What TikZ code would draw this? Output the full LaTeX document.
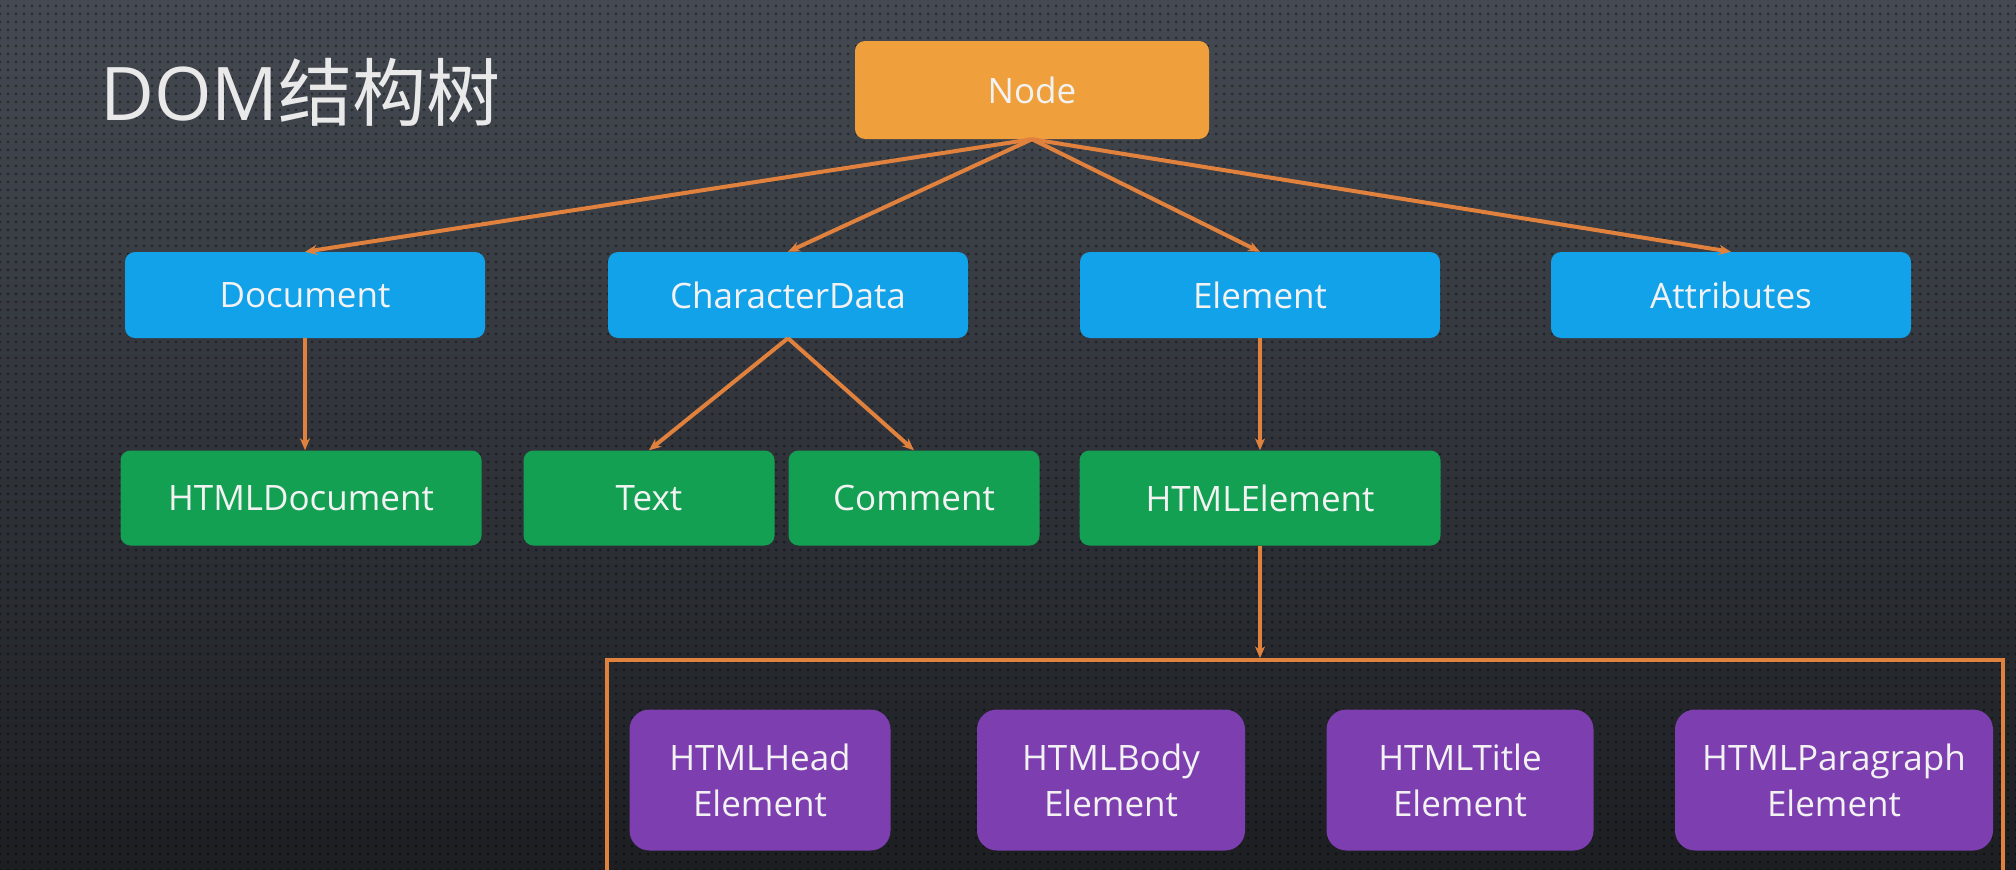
\documentclass[tikz,border=0pt]{standalone}
\usepackage{fontspec}
\setmainfont{Open Sans}
\newfontfamily\cjk{Noto Sans CJK SC}
\usetikzlibrary{arrows.meta,patterns.meta,calc}
\definecolor{bgtop}{HTML}{454A52}
\definecolor{bgbot}{HTML}{1C1E22}
\definecolor{cOrange}{HTML}{EFA03C}
\definecolor{cLine}{HTML}{E0813E}
\definecolor{cBlue}{HTML}{12A2EA}
\definecolor{cGreen}{HTML}{13A053}
\definecolor{cPurple}{HTML}{7D3EB0}
\definecolor{cText}{HTML}{F2F2F2}
\tikzset{
  box/.style={rounded corners=10pt, inner sep=0pt, text=cText, font=\fontsize{35}{46}\selectfont, align=center},
  rootbox/.style={box, fill=cOrange, minimum width=354pt, minimum height=98pt},
  bluebox/.style={box, fill=cBlue, minimum width=360pt, minimum height=86pt},
  greenbox/.style={box, fill=cGreen, minimum height=95pt},
  purplebox/.style={box, fill=cPurple, rounded corners=20pt, minimum height=141pt},
  link/.style={draw=cLine, line width=4pt, -{Stealth[length=12pt,width=10pt]}},
}
\begin{document}
\begin{tikzpicture}[x=1pt,y=-1pt]
\useasboundingbox (0,0) rectangle (2016,870);
\clip (0,0) rectangle (2016,870);
\shade[top color=bgtop, bottom color=bgbot] (0,0) rectangle (2016,870);
\fill[pattern={Dots[distance=8pt,radius=1.5pt]}, pattern color=black, opacity=0.4] (0,0) rectangle (2016,870);

\node[anchor=west, text=cText!92!gray, font=\fontsize{74}{80}\selectfont, inner sep=0pt] (title) at (100,92) {DOM{\cjk 结构树}};

\node[rootbox] (root) at (1032,90) {Node};

\node[bluebox] (doc) at (305,295) {Document};
\node[bluebox] (cdata) at (788,295) {CharacterData};
\node[bluebox] (elem) at (1260,295) {Element};
\node[bluebox] (attr) at (1731,295) {Attributes};

\node[greenbox, minimum width=361pt] (hdoc) at (301,498) {HTMLDocument};
\node[greenbox, minimum width=251pt] (text) at (649,498) {Text};
\node[greenbox, minimum width=251pt] (comment) at (914,498) {Comment};
\node[greenbox, minimum width=361pt] (helem) at (1260,498) {HTMLElement};

\node[draw=cLine, line width=3.5pt, minimum width=1396pt, minimum height=260pt, inner sep=0pt] (frame) at (1305,790) {};

\node[purplebox, minimum width=261pt] (head) at (760,780) {HTMLHead\\Element};
\node[purplebox, minimum width=268pt] (body) at (1111,780) {HTMLBody\\Element};
\node[purplebox, minimum width=267pt] (ttl) at (1460,780) {HTMLTitle\\Element};
\node[purplebox, minimum width=318pt] (para) at (1834,780) {HTMLParagraph\\Element};

\draw[link] (root.south) -- (doc.north);
\draw[link] (root.south) -- (cdata.north);
\draw[link] (root.south) -- (elem.north);
\draw[link] (root.south) -- (attr.north);
\draw[link] (doc.south) -- (doc.south |- hdoc.north);
\draw[link] (cdata.south) -- (text.north);
\draw[link] (cdata.south) -- (comment.north);
\draw[link] (elem.south) -- (helem.north);
\draw[link] (helem.south) -- (helem.south |- frame.north);
\end{tikzpicture}
\end{document}
